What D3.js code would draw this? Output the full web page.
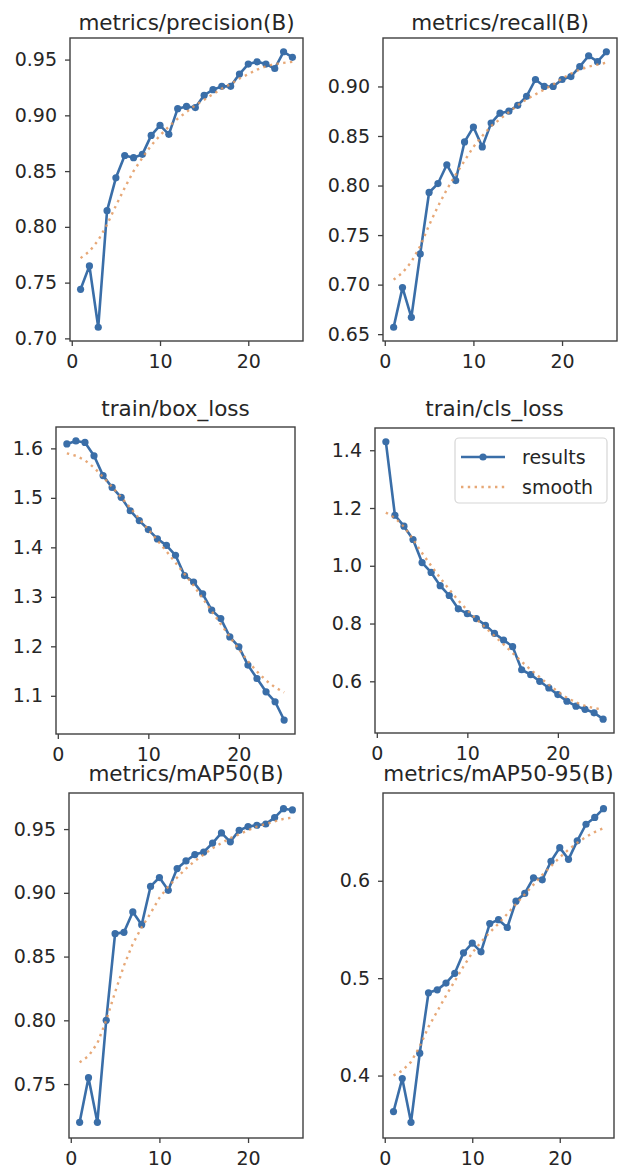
<!DOCTYPE html>
<html>
<head>
<meta charset="utf-8">
<script src="https://cdn.jsdelivr.net/npm/d3@7"></script>
<style>
  html, body { margin: 0; padding: 0; background: #ffffff; }
  svg { display: block; }
  text { font-family: "DejaVu Sans", sans-serif; fill: #262626; }
</style>
</head>
<body>
<svg id="chart" width="619" height="1170"></svg>
<script>
// ---------------- data ----------------
const epochs = [1,2,3,4,5,6,7,8,9,10,11,12,13,14,15,16,17,18,19,20,21,22,23,24,25];
const xTicks = [0, 10, 20];

const panelTitles = ["metrics/precision(B)", "metrics/recall(B)", "train/box_loss",
                     "train/cls_loss", "metrics/mAP50(B)", "metrics/mAP50-95(B)"];

const precision = [0.744,0.765,0.710,0.8145,0.844,0.864,0.862,0.865,0.882,0.891,0.883,0.906,0.908,0.907,0.918,0.923,0.926,0.926,0.937,0.946,0.948,0.946,0.942,0.957,0.952];
const precisionSmooth = [0.772,0.778,0.788,0.802,0.819,0.835,0.850,0.862,0.873,0.882,0.890,0.897,0.903,0.909,0.914,0.919,0.924,0.928,0.933,0.937,0.941,0.944,0.946,0.947,0.948];

const recall = [0.657,0.697,0.667,0.731,0.793,0.802,0.821,0.805,0.844,0.859,0.839,0.863,0.873,0.875,0.881,0.890,0.907,0.900,0.900,0.907,0.910,0.920,0.931,0.925,0.935];
const recallSmooth = [0.705,0.712,0.723,0.739,0.760,0.779,0.796,0.811,0.825,0.839,0.850,0.860,0.867,0.874,0.881,0.887,0.892,0.897,0.902,0.908,0.913,0.917,0.920,0.922,0.924];

const boxLoss = [1.609,1.615,1.612,1.585,1.545,1.521,1.501,1.474,1.454,1.436,1.417,1.404,1.384,1.343,1.330,1.306,1.273,1.256,1.219,1.199,1.162,1.135,1.108,1.088,1.051];
const boxLossSmooth = [1.590,1.585,1.576,1.561,1.542,1.522,1.501,1.480,1.458,1.436,1.414,1.392,1.369,1.346,1.323,1.297,1.271,1.245,1.219,1.194,1.170,1.149,1.131,1.117,1.107];

const clsLoss = [1.429,1.175,1.137,1.091,1.011,0.977,0.931,0.897,0.851,0.834,0.817,0.794,0.766,0.743,0.720,0.640,0.623,0.600,0.577,0.554,0.531,0.514,0.503,0.491,0.469];
const clsLossSmooth = [1.184,1.166,1.135,1.092,1.044,1.000,0.958,0.918,0.880,0.846,0.815,0.786,0.757,0.728,0.698,0.668,0.640,0.614,0.588,0.564,0.543,0.527,0.515,0.507,0.502];

const mAP50 = [0.720,0.755,0.720,0.800,0.868,0.869,0.885,0.875,0.905,0.912,0.902,0.919,0.925,0.930,0.932,0.939,0.947,0.940,0.949,0.952,0.953,0.954,0.959,0.966,0.965];
const mAP50Smooth = [0.767,0.772,0.782,0.800,0.822,0.843,0.860,0.873,0.884,0.896,0.905,0.912,0.919,0.925,0.930,0.935,0.939,0.943,0.946,0.949,0.952,0.954,0.956,0.958,0.959];

const mAP5095 = [0.363,0.397,0.352,0.423,0.485,0.488,0.495,0.505,0.526,0.536,0.527,0.556,0.560,0.552,0.579,0.587,0.603,0.601,0.620,0.634,0.622,0.641,0.658,0.665,0.674];
const mAP5095Smooth = [0.400,0.405,0.414,0.430,0.450,0.466,0.482,0.497,0.512,0.526,0.537,0.547,0.556,0.566,0.576,0.586,0.596,0.606,0.615,0.624,0.632,0.639,0.645,0.650,0.654];

const yTicksPrecision = [0.70,0.75,0.80,0.85,0.90,0.95];
const yTicksRecall = [0.65,0.70,0.75,0.80,0.85,0.90];
const yTicksBox = [1.1,1.2,1.3,1.4,1.5,1.6];
const yTicksCls = [0.6,0.8,1.0,1.2,1.4];
const yTicksMAP50 = [0.75,0.80,0.85,0.90,0.95];
const yTicksMAP5095 = [0.4,0.5,0.6];

const legendLabels = ["results", "smooth"];

// ---------------- layout & style ----------------
const COLOR_RESULTS = "#3a6ea8";
const COLOR_SMOOTH = "#e3995f";
const FRAME = "#3f3f3f";

const panels = [
  {title: panelTitles[0], y: precision, s: precisionSmooth, ticks: yTicksPrecision, fmt: ".2f", box: {l:70, r:303, t:38, b:341}, ty: 30},
  {title: panelTitles[1], y: recall, s: recallSmooth, ticks: yTicksRecall, fmt: ".2f", box: {l:383, r:617, t:38, b:341}, ty: 30},
  {title: panelTitles[2], y: boxLoss, s: boxLossSmooth, ticks: yTicksBox, fmt: ".1f", box: {l:56, r:295, t:427, b:734}, ty: 416},
  {title: panelTitles[3], y: clsLoss, s: clsLossSmooth, ticks: yTicksCls, fmt: ".1f", box: {l:375, r:614, t:428, b:733}, ty: 416, legend: true},
  {title: panelTitles[4], y: mAP50, s: mAP50Smooth, ticks: yTicksMAP50, fmt: ".2f", box: {l:69, r:303, t:793, b:1138}, ty: 781},
  {title: panelTitles[5], y: mAP5095, s: mAP5095Smooth, ticks: yTicksMAP5095, fmt: ".1f", box: {l:383, r:614, t:793, b:1138}, ty: 781}
];

const svg = d3.select("#chart");
const TICK_FS = 19, TITLE_FS = 21.5;

panels.forEach(p => {
  const b = p.box;
  const g = svg.append("g");

  const xMin = d3.min(epochs), xMax = d3.max(epochs);
  const xPad = (xMax - xMin) * 0.05;
  const x = d3.scaleLinear().domain([xMin - xPad, xMax + xPad]).range([b.l, b.r]);

  const all = p.y.concat(p.s);
  const yMin = d3.min(all), yMax = d3.max(all);
  const yPad = (yMax - yMin) * 0.05;
  const y = d3.scaleLinear().domain([yMin - yPad, yMax + yPad]).range([b.b, b.t]);

  // title
  g.append("text")
    .attr("x", (b.l + b.r) / 2).attr("y", p.ty)
    .attr("text-anchor", "middle")
    .style("font-size", TITLE_FS + "px")
    .text(p.title);

  // results line
  const line = d3.line().x((d, i) => x(epochs[i])).y(d => y(d));
  g.append("path").datum(p.y)
    .attr("d", line)
    .attr("fill", "none")
    .attr("stroke", COLOR_RESULTS)
    .attr("stroke-width", 2.6)
    .attr("stroke-linejoin", "round");
  g.selectAll("circle.pt").data(p.y).enter().append("circle")
    .attr("class", "pt")
    .attr("cx", (d, i) => x(epochs[i]))
    .attr("cy", d => y(d))
    .attr("r", 3.6)
    .attr("fill", COLOR_RESULTS);

  // smooth line
  g.append("path").datum(p.s)
    .attr("d", line)
    .attr("fill", "none")
    .attr("stroke", COLOR_SMOOTH)
    .attr("stroke-width", 2.4)
    .attr("stroke-dasharray", "2.4,4.4")
    .attr("opacity", 0.85);

  // frame
  g.append("rect")
    .attr("x", b.l).attr("y", b.t)
    .attr("width", b.r - b.l).attr("height", b.b - b.t)
    .attr("fill", "none").attr("stroke", FRAME).attr("stroke-width", 1.4);

  // axes
  const ya = g.append("g").attr("transform", `translate(${b.l},0)`)
    .call(d3.axisLeft(y).tickValues(p.ticks).tickFormat(d3.format(p.fmt)).tickSize(5).tickPadding(8));
  const xa = g.append("g").attr("transform", `translate(0,${b.b})`)
    .call(d3.axisBottom(x).tickValues(xTicks).tickFormat(d3.format("d")).tickSize(5).tickPadding(9));
  [ya, xa].forEach(a => {
    a.select(".domain").remove();
    a.selectAll(".tick line").attr("stroke", FRAME).attr("stroke-width", 1.3);
    a.selectAll(".tick text")
      .style("font-size", TICK_FS + "px")
      .style("font-family", "DejaVu Sans, sans-serif")
      .attr("fill", "#262626");
  });

  // legend
  if (p.legend) {
    const lg = g.append("g");
    const lx = b.r - 159, ly = b.t + 10, lw = 152, lh = 65;
    lg.append("rect").attr("x", lx).attr("y", ly).attr("width", lw).attr("height", lh)
      .attr("rx", 4).attr("fill", "#ffffff").attr("fill-opacity", 0.85)
      .attr("stroke", "#d6d6d6").attr("stroke-width", 1.2);
    legendLabels.forEach((lab, i) => {
      const yy = ly + 19 + i * 30;
      if (i === 0) {
        lg.append("line").attr("x1", lx + 6).attr("x2", lx + 50).attr("y1", yy).attr("y2", yy)
          .attr("stroke", COLOR_RESULTS).attr("stroke-width", 2.6);
        lg.append("circle").attr("cx", lx + 28).attr("cy", yy).attr("r", 3.6).attr("fill", COLOR_RESULTS);
      } else {
        lg.append("line").attr("x1", lx + 6).attr("x2", lx + 50).attr("y1", yy).attr("y2", yy)
          .attr("stroke", COLOR_SMOOTH).attr("stroke-width", 2.4)
          .attr("stroke-dasharray", "2.4,4.4").attr("opacity", 0.85);
      }
      lg.append("text").attr("x", lx + 67).attr("y", yy).attr("dy", "0.35em")
        .style("font-size", "19px").text(lab);
    });
  }
});
</script>
</body>
</html>
